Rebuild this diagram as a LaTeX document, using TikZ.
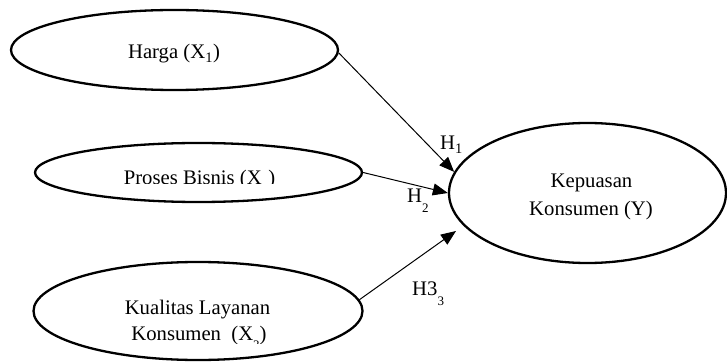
\documentclass[tikz,border=0pt]{standalone}
\usepackage{fontspec}
\setmainfont{Liberation Serif}
\usetikzlibrary{shapes.geometric,arrows.meta}

\begin{document}
\begin{tikzpicture}[x=1pt,y=-1pt,
  construct/.style={draw, ellipse, line width=2.3pt, inner sep=0pt},
  link/.style={line width=1pt, -{Triangle[length=15pt,width=12pt]}},
  txt/.style={font=\fontsize{20.7}{27}\selectfont, inner sep=0pt, anchor=base},
  hyp/.style={font=\fontsize{20.7}{27}\selectfont, inner sep=0pt, anchor=base west}]
\useasboundingbox (0,0) rectangle (727,363);

% dropped subscript, as used in the labels below
\newcommand{\lowsub}[2]{\raisebox{#1}{\fontsize{13}{13}\selectfont #2}}

% latent constructs
\node[construct, minimum width=327pt, minimum height=80pt]  (harga)    at (174.5,50) {};
\node[construct, minimum width=327pt, minimum height=59pt]  (proses)   at (198.5,172.5) {};
\node[construct, minimum width=329pt, minimum height=98pt]  (kualitas) at (198,311) {};
\node[construct, minimum width=277pt, minimum height=140pt] (kepuasan) at (587.5,193) {};

% construct labels
\node[txt] (harga-text) at (174,59) {Harga (X\textsubscript{1})};
\begin{scope}
  \clip (100,160) rectangle (300,184);
  \node[txt] (proses-text) at (199.5,184.5) {Proses Bisnis (X\lowsub{-12pt}{2})};
\end{scope}
\begin{scope}
  \clip (100,285) rectangle (300,343);
  \node[txt] (kualitas-l1) at (197.5,314) {Kualitas Layanan};
  \node[txt] (kualitas-l2) at (199,340) {Konsumen\ \ (X\lowsub{-9pt}{3})};
\end{scope}
\node[txt] (kepuasan-l1) at (591.5,188) {Kepuasan};
\node[txt] (kepuasan-l2) at (591,215) {Konsumen (Y)};

% hypothesised paths
\coordinate (h3end) at (456,231);
\draw[link] (harga.-1) -- (kepuasan.171);
\draw[link] (proses.east) -- (kepuasan.west);
\draw[link] (kualitas.4) -- (h3end);

% hypothesis labels
\node[hyp] (h1) at (440,150) {H\textsubscript{1}};
\node[hyp] (h2) at (407,203) {H\lowsub{-10pt}{2}};
\node[hyp] (h3) at (412,295) {H3\lowsub{-10pt}{3}};
\end{tikzpicture}
\end{document}
